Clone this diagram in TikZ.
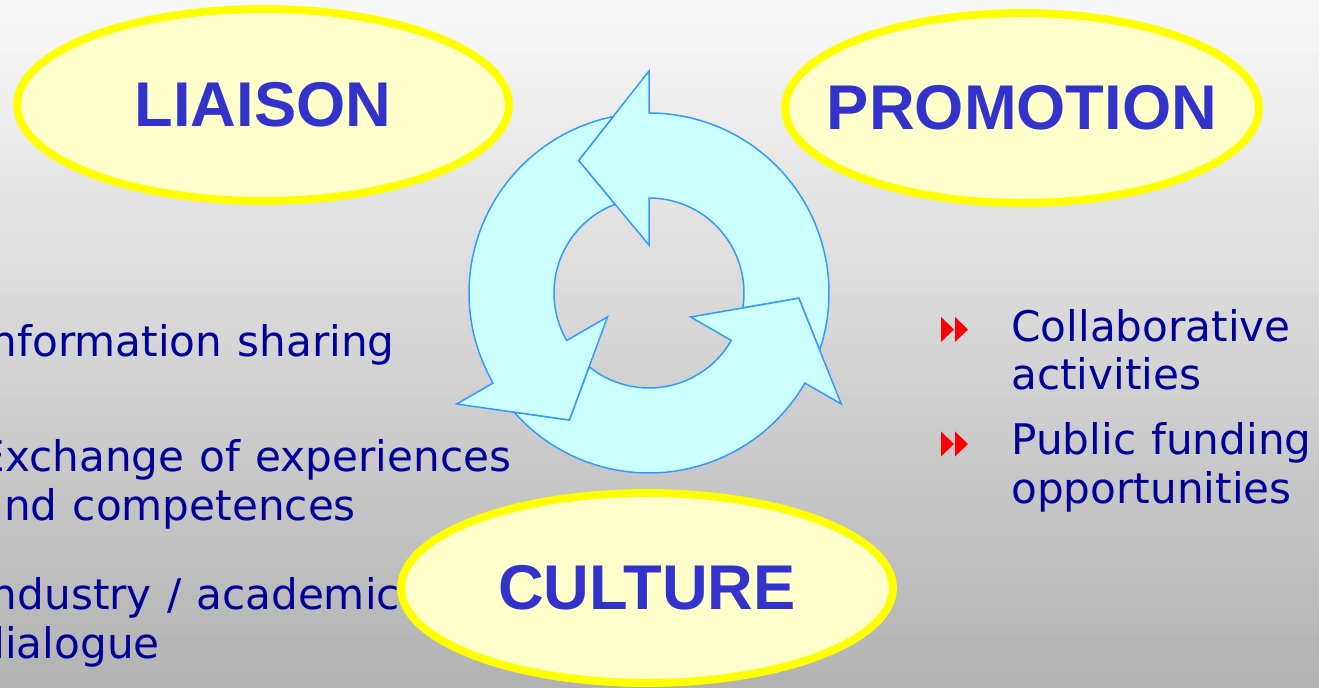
\documentclass[tikz,border=0pt]{standalone}
\usepackage{fontspec}
\setmainfont{DejaVu Sans}
\newfontfamily\headfont{Liberation Sans}
\usetikzlibrary{shapes.geometric}
\definecolor{navytext}{HTML}{000099}
\definecolor{titleblue}{HTML}{3333CC}
\definecolor{ellfill}{HTML}{FFFFCC}
\definecolor{ellline}{HTML}{FFFF00}
\definecolor{cycfill}{HTML}{CCFFFF}
\definecolor{cycline}{HTML}{3399FF}
\definecolor{bgtop}{HTML}{F8F8F8}
\definecolor{bgbottom}{HTML}{B2B2B2}
\newcommand{\itemfont}{\fontsize{24}{27.5}\selectfont\spaceskip=0.36em\relax}
\begin{document}
\begin{tikzpicture}[x=0.02cm,y=0.02cm,
	title/.style={ellipse,draw=ellline,fill=ellfill,line width=4.5pt,text=titleblue,
		font=\headfont\bfseries\fontsize{36}{40}\selectfont,inner sep=-3cm},
	item/.style={anchor=base west,align=left,text=navytext,inner sep=0pt,font=\itemfont},
	cyc/.style={draw=cycline,fill=cycfill,line width=0.85pt,line join=miter}]
		\useasboundingbox (0,0) rectangle (1319,687);
		\clip (0,0) rectangle (1319,687);
		\shade[top color=bgtop,bottom color=bgbottom] (0,0) rectangle (1319,687);
		
		\begin{scope}[shift={(649,394)}]
			\foreach \b in {90,210,330}
				\draw[cyc] (\b-108.5:180) arc[start angle=\b-108.5,end angle=\b,radius=180]
					-- (\b:222) -- (\b+28:150) -- (\b:48) -- (\b:95)
					arc[start angle=\b,end angle=\b-99,radius=95] -- (\b-92:150) -- cycle;
		\end{scope}
		
		\node (liaison) at (263,582) [title,minimum width=9.84cm,minimum height=3.84cm] {LIAISON};
		\node (promotion) at (1022,579) [title,minimum width=9.48cm,minimum height=3.8cm] {PROMOTION};
		\node (culture) at (647,99) [title,minimum width=9.84cm,minimum height=3.8cm] {CULTURE};
		
		\node (info) at (-22,330) [item] {Information sharing};
		\node (exchange) at (-22,167) [item] {Exchange of experiences\\and competences};
		\node (dialogue) at (-22,29) [item] {Industry / academic\\dialogue};
		
		\node (collab) at (1011,297) [item] {Collaborative\\activities};
		\node (funding) at (1011,184) [item] {Public funding\\opportunities};
		
		\foreach \y in {357.5,243}
		{
			\fill[red] (941,\y+12.5)--(954,\y)--(941,\y-12.5)--cycle;
			\fill[red] (955,\y+12.5)--(968,\y)--(955,\y-12.5)--cycle;
		}
	\end{tikzpicture}
\end{document}
